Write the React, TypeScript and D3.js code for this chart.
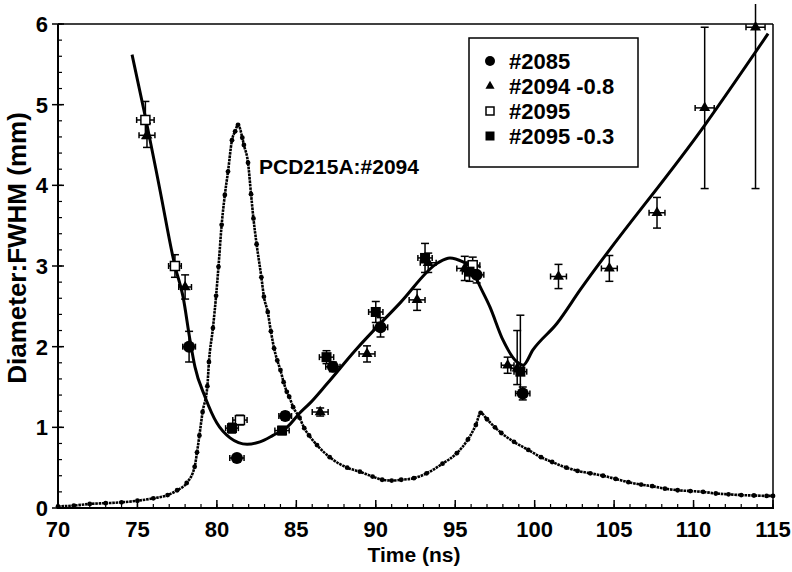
import React from 'react';
import * as d3 from 'd3';

const W = 792;
const H = 572;

const xTickValues = [70, 75, 80, 85, 90, 95, 100, 105, 110, 115];
const yTickValues = [0, 1, 2, 3, 4, 5, 6];

// PCD215A:#2094 signal (dotted trace)
const pcdTime = [70.0, 71.0, 72.0, 73.0, 74.0, 75.0, 76.0, 76.9, 77.5, 78.1, 78.6, 78.75, 78.9, 79.1, 79.4, 79.5, 79.75, 79.95, 80.1, 80.3, 80.5, 80.7, 80.95, 81.15, 81.33, 81.6, 81.7, 81.96, 82.15, 82.3, 82.5, 82.8, 82.96, 83.2, 83.4, 83.6, 83.8, 84.0, 84.2, 84.4, 84.55, 84.8, 85.2, 85.5, 85.8, 86.3, 87.1, 88.2, 89.0, 89.8, 90.4, 91.0, 91.6, 92.4, 93.2, 94.2, 95.1, 95.8, 96.3, 96.6, 97.0, 97.5, 97.9, 98.7, 99.6, 100.4, 101.1, 102.0, 102.7, 103.5, 104.3, 105.1, 105.9, 106.7, 107.4, 108.2, 109.0, 109.8, 110.6, 111.4, 112.2, 113.0, 113.8, 114.6, 115.0];
const pcdValue = [0.02, 0.03, 0.05, 0.06, 0.07, 0.09, 0.12, 0.16, 0.22, 0.31, 0.51, 0.69, 0.90, 1.19, 1.51, 1.81, 2.23, 2.63, 2.99, 3.51, 3.88, 4.17, 4.56, 4.67, 4.75, 4.59, 4.50, 4.28, 3.89, 3.59, 3.27, 2.86, 2.62, 2.43, 2.19, 1.98, 1.83, 1.71, 1.56, 1.44, 1.38, 1.25, 1.12, 0.99, 0.90, 0.78, 0.63, 0.50, 0.45, 0.39, 0.35, 0.34, 0.35, 0.37, 0.43, 0.55, 0.68, 0.85, 1.03, 1.18, 1.10, 1.00, 0.93, 0.82, 0.72, 0.63, 0.57, 0.50, 0.46, 0.43, 0.40, 0.36, 0.32, 0.29, 0.27, 0.24, 0.22, 0.21, 0.20, 0.18, 0.17, 0.16, 0.155, 0.15, 0.15];

// Fitted diameter curve (solid)
const fitTime = [74.66, 75.54, 76.42, 77.36, 77.87, 78.31, 78.62, 79.25, 80.01, 80.83, 81.90, 82.71, 83.53, 84.41, 85.23, 85.86, 86.93, 88.69, 91.52, 93.92, 94.67, 95.49, 96.06, 96.37, 97.19, 98.01, 98.89, 99.27, 99.89, 101.41, 102.85, 110.72, 114.69];
const fitValue = [5.62, 4.81, 3.94, 3.00, 2.62, 2.08, 1.75, 1.38, 1.05, 0.87, 0.79, 0.82, 0.90, 1.00, 1.18, 1.30, 1.54, 1.95, 2.54, 3.04, 3.10, 3.05, 2.98, 2.83, 2.49, 2.08, 1.81, 1.77, 1.96, 2.29, 2.70, 4.75, 5.88];

type Pt = { t: number; v: number; dx: number; dy: number; dyDown?: number };

// #2085 (filled circle)
const shot2085: Pt[] = [
  { t: 78.25, v: 2.00, dx: 0.4, dy: 0.19 },
  { t: 81.26, v: 0.62, dx: 0.45, dy: 0.03 },
  { t: 84.3, v: 1.14, dx: 0.4, dy: 0.05 },
  { t: 87.3, v: 1.75, dx: 0.45, dy: 0.06 },
  { t: 90.3, v: 2.24, dx: 0.45, dy: 0.12 },
  { t: 96.35, v: 2.89, dx: 0.45, dy: 0.10 },
  { t: 99.25, v: 1.42, dx: 0.45, dy: 0.08 },
];
// #2094 -0.8 (filled triangle)
const shot2094: Pt[] = [
  { t: 75.6, v: 4.62, dx: 0.5, dy: 0.15 },
  { t: 78.0, v: 2.74, dx: 0.4, dy: 0.15 },
  { t: 86.5, v: 1.19, dx: 0.5, dy: 0.05 },
  { t: 89.45, v: 1.91, dx: 0.5, dy: 0.10 },
  { t: 92.6, v: 2.58, dx: 0.5, dy: 0.13 },
  { t: 93.3, v: 3.04, dx: 0.5, dy: 0.12 },
  { t: 95.6, v: 2.97, dx: 0.5, dy: 0.15 },
  { t: 98.3, v: 1.77, dx: 0.4, dy: 0.10 },
  { t: 98.9, v: 1.73, dx: 0.4, dy: 0.47, dyDown: 0.2 },
  { t: 101.5, v: 2.87, dx: 0.5, dy: 0.15 },
  { t: 104.7, v: 2.97, dx: 0.5, dy: 0.16 },
  { t: 107.7, v: 3.66, dx: 0.5, dy: 0.19 },
  { t: 110.7, v: 4.96, dx: 0.6, dy: 1.0 },
  { t: 113.9, v: 5.96, dx: 0.6, dy: 2.0 },
];
// #2095 (open square)
const shot2095: Pt[] = [
  { t: 75.5, v: 4.81, dx: 0.55, dy: 0.23 },
  { t: 77.36, v: 3.00, dx: 0.4, dy: 0.14 },
  { t: 81.45, v: 1.09, dx: 0.45, dy: 0.06 },
  { t: 96.1, v: 3.01, dx: 0.45, dy: 0.10 },
];
// #2095 -0.3 (filled square)
const shot2095s: Pt[] = [
  { t: 80.95, v: 0.99, dx: 0.4, dy: 0.06 },
  { t: 84.1, v: 0.96, dx: 0.45, dy: 0.05 },
  { t: 86.9, v: 1.87, dx: 0.45, dy: 0.08 },
  { t: 90.0, v: 2.43, dx: 0.45, dy: 0.13 },
  { t: 93.1, v: 3.10, dx: 0.45, dy: 0.18 },
  { t: 95.9, v: 2.93, dx: 0.45, dy: 0.12 },
  { t: 99.1, v: 1.69, dx: 0.4, dy: 0.70, dyDown: 0.25 },
];

const legendLabels = ['#2085', '#2094 -0.8', '#2095', '#2095 -0.3'];
const annotation = 'PCD215A:#2094';
const xTitle = 'Time (ns)';
const yTitle = 'Diameter:FWHM (mm)';

const FONT = "'Liberation Sans', Arial, Helvetica, sans-serif";

export default function App() {
  const x = d3.scaleLinear().domain([70, 115]).range([58, 773]);
  const y = d3.scaleLinear().domain([0, 6]).range([508, 24]);

  const pcdData = pcdTime.map((t, i) => [t, pcdValue[i]] as [number, number]);
  const fitData = fitTime.map((t, i) => [t, fitValue[i]] as [number, number]);

  const pcdLine = d3.line<[number, number]>().x(d => x(d[0])).y(d => y(d[1])).curve(d3.curveMonotoneX);
  const fitLine = d3.line<[number, number]>().x(d => x(d[0])).y(d => y(d[1])).curve(d3.curveMonotoneX);

  const triPath = d3.symbol().type(d3.symbolTriangle).size(52)() as string;
  const triLegend = d3.symbol().type(d3.symbolTriangle).size(36)() as string;

  const minorX = d3.range(70, 116, 1);
  const minorY = d3.range(0, 6.001, 0.2);

  const errBars = (p: Pt, key: string) => {
    const cx = x(p.t), cy = y(p.v);
    const x0 = x(p.t - p.dx), x1 = x(p.t + p.dx);
    const yTop = y(p.v + p.dy), yBot = y(p.v - (p.dyDown ?? p.dy));
    return (
      <g key={key} stroke="#000" strokeWidth={1.5} fill="none">
        <line x1={x0} x2={x1} y1={cy} y2={cy} />
        <line x1={x0} x2={x0} y1={cy - 3} y2={cy + 3} />
        <line x1={x1} x2={x1} y1={cy - 3} y2={cy + 3} />
        <line x1={cx} x2={cx} y1={yTop} y2={yBot} />
        <line x1={cx - 4} x2={cx + 4} y1={yTop} y2={yTop} />
        <line x1={cx - 4} x2={cx + 4} y1={yBot} y2={yBot} />
      </g>
    );
  };

  return (
    <svg width={W} height={H} viewBox={`0 0 ${W} ${H}`}
      style={{ position: 'absolute', left: 0, top: 0, background: '#fff', display: 'block' }}
      fontFamily={FONT} fontWeight="bold">
      <defs>
        <clipPath id="clipTop">
          <rect x={0} y={4} width={W} height={H} />
        </clipPath>
      </defs>
      <rect x={0} y={0} width={W} height={H} fill="#fff" />

      {/* frame */}
      <line x1={58} x2={773} y1={24} y2={24} stroke="#000" strokeWidth={1.5} />
      <line x1={773} x2={773} y1={24} y2={508} stroke="#000" strokeWidth={1.5} />
      <line x1={58} x2={58} y1={24} y2={509} stroke="#000" strokeWidth={2} />
      <line x1={57} x2={774} y1={508} y2={508} stroke="#000" strokeWidth={2} />

      {/* x ticks */}
      {minorX.map(t => (
        <line key={'mx' + t} x1={x(t)} x2={x(t)} y1={508} y2={504} stroke="#000" strokeWidth={1.2} />
      ))}
      {xTickValues.map(t => (
        <g key={'x' + t}>
          <line x1={x(t)} x2={x(t)} y1={508} y2={500} stroke="#000" strokeWidth={1.5} />
          <text x={x(t)} y={537} textAnchor="middle" fontSize={22}>{t}</text>
        </g>
      ))}

      {/* y ticks */}
      {minorY.map((v, i) => (
        <line key={'my' + i} x1={58} x2={62} y1={y(v)} y2={y(v)} stroke="#000" strokeWidth={1.2} />
      ))}
      {yTickValues.map(v => (
        <g key={'y' + v}>
          <line x1={52} x2={64} y1={y(v)} y2={y(v)} stroke="#000" strokeWidth={1.5} />
          <text x={48} y={y(v)} dy="0.36em" textAnchor="end" fontSize={22}>{v}</text>
        </g>
      ))}

      {/* axis titles */}
      <text x={414} y={562} textAnchor="middle" fontSize={21}>{xTitle}</text>
      <text transform="translate(26,248) rotate(-90)" textAnchor="middle" fontSize={26}>{yTitle}</text>

      {/* PCD trace */}
      <path d={pcdLine(pcdData) as string} fill="none" stroke="#000" strokeWidth={2.6} strokeDasharray="2.6 0.8" />
      {pcdData.map((d, i) => (
        <circle key={'pd' + i} cx={x(d[0])} cy={y(d[1])} r={2.4} fill="#000" />
      ))}

      {/* fit curve */}
      <path d={fitLine(fitData) as string} fill="none" stroke="#000" strokeWidth={3} />

      {/* error bars */}
      <g clipPath="url(#clipTop)">
        {shot2085.map((p, i) => errBars(p, 'e85' + i))}
        {shot2094.map((p, i) => errBars(p, 'e94' + i))}
        {shot2095.map((p, i) => errBars(p, 'e95' + i))}
        {shot2095s.map((p, i) => errBars(p, 'e95s' + i))}
      </g>

      {/* markers */}
      {shot2085.map((p, i) => (
        <circle key={'c' + i} cx={x(p.t)} cy={y(p.v)} r={6} fill="#000" />
      ))}
      {shot2094.map((p, i) => (
        <path key={'t' + i} d={triPath} transform={`translate(${x(p.t)},${y(p.v)})`} fill="#000" />
      ))}
      {shot2095.map((p, i) => (
        <rect key={'o' + i} x={x(p.t) - 4.5} y={y(p.v) - 4.5} width={9} height={9} fill="#fff" stroke="#000" strokeWidth={1.5} />
      ))}
      {shot2095s.map((p, i) => (
        <rect key={'s' + i} x={x(p.t) - 5} y={y(p.v) - 5} width={10} height={10} fill="#000" />
      ))}

      {/* annotation */}
      <text x={259} y={174} fontSize={21}>{annotation}</text>

      {/* legend */}
      <rect x={469} y={38} width={169} height={129} fill="#fff" stroke="#000" strokeWidth={1.5} />
      {legendLabels.map((lab, i) => {
        const cy = 61 + 25 * i;
        let marker: React.ReactNode = null;
        if (i === 0) marker = <circle cx={490} cy={cy} r={5} fill="#000" />;
        if (i === 1) marker = <path d={triLegend} transform={`translate(490,${cy})`} fill="#000" />;
        if (i === 2) marker = <rect x={486} y={cy - 4} width={8} height={8} fill="#fff" stroke="#000" strokeWidth={1.5} />;
        if (i === 3) marker = <rect x={485.5} y={cy - 4.5} width={9} height={9} fill="#000" />;
        return (
          <g key={'lg' + i}>
            {marker}
            <text x={509} y={cy + 8} fontSize={22}>{lab}</text>
          </g>
        );
      })}
    </svg>
  );
}
